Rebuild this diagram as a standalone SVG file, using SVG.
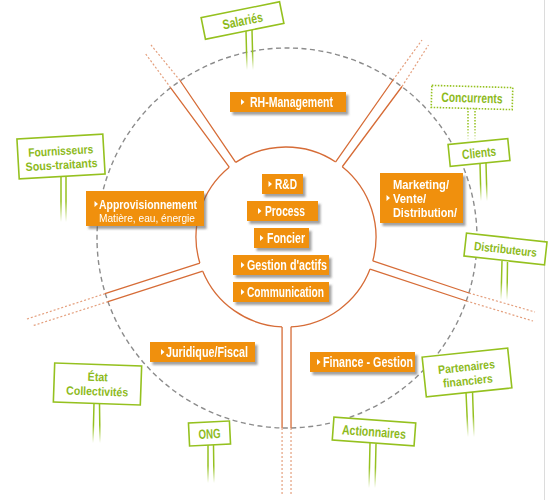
<svg xmlns="http://www.w3.org/2000/svg" xmlns:xlink="http://www.w3.org/1999/xlink" width="554" height="500" viewBox="0 0 554 500">
<style>
.ob{fill:#f0900a}
.ot{fill:#fff;font-family:"Liberation Sans",Arial,sans-serif;font-weight:bold;font-size:14px}
.om{fill:#fff;font-family:"Liberation Sans",Arial,sans-serif;font-weight:bold;font-size:12px}
.os{fill:#fff;font-family:"Liberation Sans",Arial,sans-serif;font-size:10.5px}
.gb{fill:#fff;stroke:#95c11f;stroke-width:1.6}
.gd{stroke-dasharray:1.5 1.5}
.gt{fill:#8dba1c;font-family:"Liberation Sans",Arial,sans-serif;font-weight:bold;font-size:13.5px;text-anchor:middle}
.g2{fill:#8dba1c;font-family:"Liberation Sans",Arial,sans-serif;font-weight:bold;font-size:12px;text-anchor:middle}
.post{fill:none;stroke:url(#pg);stroke-width:1.5}
.sp{fill:none;stroke:#d66c37;stroke-width:1.3}
.spd{fill:none;stroke:#d66c37;stroke-width:1.2;stroke-dasharray:2 2;opacity:.65}
</style>
<defs>
<filter id="sh" x="-10%" y="-20%" width="130%" height="160%"><feDropShadow dx="2.5" dy="3" stdDeviation="1" flood-color="#555" flood-opacity="0.55"/></filter>
<linearGradient id="pg" x1="0" y1="0" x2="0" y2="1"><stop offset="0" stop-color="#95c11f"/><stop offset="0.55" stop-color="#95c11f"/><stop offset="1" stop-color="#95c11f" stop-opacity="0"/></linearGradient>
<path id="tri" d="M0 -3 L3.5 0 L0 3Z" fill="#fff"/>
</defs>
<rect width="554" height="500" fill="#fff"/>
<line x1="544.5" y1="0" x2="544.5" y2="500" stroke="#dcdcdc" stroke-width="1"/>
<circle id="outer-ring" cx="287" cy="238" r="190" fill="none" stroke="#8c8c8c" stroke-width="1.4" stroke-dasharray="5 3.5"/>
<g id="connectors">
<path class="sp" d="M235.67 162.39 A90 90 0 0 1 335.67 161.95 M342.27 166.76 A90 90 0 0 1 372.77 260.9 M370.08 269.1 A90 90 0 0 1 291.02 326.86 M282.07 326.91 A90 90 0 0 1 202.73 271.15 M199.84 263.01 A90 90 0 0 1 229.24 167.16"/>
<path class="sp" d="M229.24 167.16 L170.7 87.8 M235.67 162.39 L180 80.5 M335.67 161.95 L393 80 M342.27 166.76 L402 86.5 M372.77 260.9 L469 293 M370.08 269.1 L466.5 301 M199.84 263.01 L105 293.7 M202.73 271.15 L108 301.6 M282.07 326.91 L282.07 428 M291.02 326.86 L291.02 428"/>
<path class="spd" d="M170.7 87.8 L145 53 M180 80.5 L151 45 M393 80 L422 40 M402 86.5 L428.5 45 M469 293 L535 312 M466.5 301 L533 321 M105 293.7 L27 319 M108 301.6 L32 326 M282.07 428 L282.07 494 M291.02 428 L291.02 494"/>
</g>
<g id="rh-management" filter="url(#sh)"><rect class="ob" x="230" y="92" width="116" height="20"/><use xlink:href="#tri" x="241" y="102"/><text class="ot" x="250" y="107" textLength="83" lengthAdjust="spacingAndGlyphs">RH-Management</text></g>
<g id="rd" filter="url(#sh)"><rect class="ob" x="262" y="174" width="41" height="20"/><use xlink:href="#tri" x="268.5" y="184"/><text class="ot" x="275" y="189" textLength="22" lengthAdjust="spacingAndGlyphs">R&amp;D</text></g>
<g id="process" filter="url(#sh)"><rect class="ob" x="247" y="201" width="71" height="20"/><use xlink:href="#tri" x="258" y="211"/><text class="ot" x="265" y="216" textLength="40" lengthAdjust="spacingAndGlyphs">Process</text></g>
<g id="foncier" filter="url(#sh)"><rect class="ob" x="254" y="228" width="55" height="20"/><use xlink:href="#tri" x="260" y="238"/><text class="ot" x="267" y="243" textLength="38" lengthAdjust="spacingAndGlyphs">Foncier</text></g>
<g id="gestion-actifs" filter="url(#sh)"><rect class="ob" x="233" y="255" width="96" height="20"/><use xlink:href="#tri" x="241" y="265"/><text class="ot" x="247" y="270" textLength="80" lengthAdjust="spacingAndGlyphs">Gestion d'actifs</text></g>
<g id="communication" filter="url(#sh)"><rect class="ob" x="233" y="282" width="96" height="20"/><use xlink:href="#tri" x="241" y="292"/><text class="ot" x="247" y="297" textLength="77" lengthAdjust="spacingAndGlyphs">Communication</text></g>
<g id="approvisionnement" filter="url(#sh)"><rect class="ob" x="86" y="191" width="118" height="35"/><use xlink:href="#tri" x="94.5" y="204"/><text class="ot" x="99" y="209" style="font-size:12.5px" textLength="98" lengthAdjust="spacingAndGlyphs">Approvisionnement</text><text class="os" x="99" y="221.5" textLength="96" lengthAdjust="spacingAndGlyphs">Matière, eau, énergie</text></g>
<g id="marketing" filter="url(#sh)"><rect class="ob" x="380" y="173" width="83" height="50"/><use xlink:href="#tri" x="386.5" y="198"/><text class="om" x="393" y="188.5" textLength="56" lengthAdjust="spacingAndGlyphs">Marketing/</text><text class="om" x="393" y="202.5" textLength="33" lengthAdjust="spacingAndGlyphs">Vente/</text><text class="om" x="393" y="216.5" textLength="64" lengthAdjust="spacingAndGlyphs">Distribution/</text></g>
<g id="juridique" filter="url(#sh)"><rect class="ob" x="150" y="342" width="105" height="20"/><use xlink:href="#tri" x="161" y="352"/><text class="ot" x="166" y="357" textLength="82" lengthAdjust="spacingAndGlyphs">Juridique/Fiscal</text></g>
<g id="finance" filter="url(#sh)"><rect class="ob" x="310" y="352" width="105" height="20"/><use xlink:href="#tri" x="317" y="362"/><text class="ot" x="323" y="367" textLength="90" lengthAdjust="spacingAndGlyphs">Finance - Gestion</text></g>
<g id="salaries"><path class="post" d="M246 31 L247 70 M252 30 L253 70"/><g transform="translate(242.5 20.5) rotate(-11.4)"><rect class="gb" x="-40" y="-11" width="80" height="22"/><text class="gt" x="0" y="5" textLength="41" lengthAdjust="spacingAndGlyphs">Salariés</text></g></g>
<g id="concurrents"><path class="post gd" d="M468 108 L468 142 M475 108 L475 142"/><g transform="translate(472 97.5) rotate(1.6)"><rect class="gb gd" x="-40.5" y="-11" width="81" height="22"/><text class="gt" x="0" y="5" textLength="61" lengthAdjust="spacingAndGlyphs">Concurrents</text></g></g>
<g id="clients"><path class="post" d="M480 164 L481 201 M486 163 L487 201"/><g transform="translate(479 152.5) rotate(-5.7)"><rect class="gb" x="-30" y="-11" width="60" height="22"/><text class="gt" x="0" y="5" textLength="34" lengthAdjust="spacingAndGlyphs">Clients</text></g></g>
<g id="distributeurs"><path class="post" d="M502 261 L501 300 M507.5 262 L507 300"/><g transform="translate(505.5 249) rotate(6.3)"><rect class="gb" x="-40.5" y="-11.5" width="81" height="23"/><text class="gt" x="0" y="4.5" style="font-size:12px" textLength="63" lengthAdjust="spacingAndGlyphs">Distributeurs</text></g></g>
<g id="fournisseurs"><path class="post" d="M61 176 L61 222 M66 176 L66 222"/><g transform="translate(61 156.5) rotate(-3.3)"><rect class="gb" x="-43" y="-20" width="86" height="40"/><text class="g2" x="0" y="-1.5" textLength="65" lengthAdjust="spacingAndGlyphs">Fournisseurs</text><text class="g2" x="0" y="12.5" textLength="72" lengthAdjust="spacingAndGlyphs">Sous-traitants</text></g></g>
<g id="etat"><path class="post" d="M94 403 L93 443 M99.5 404 L100 443"/><g transform="translate(97.5 384) rotate(2)"><rect class="gb" x="-43.5" y="-19.5" width="87" height="39"/><text class="g2" x="0" y="-3" textLength="20" lengthAdjust="spacingAndGlyphs">État</text><text class="g2" x="0" y="11.5" textLength="62" lengthAdjust="spacingAndGlyphs">Collectivités</text></g></g>
<g id="ong"><path class="post" d="M208 445 L208 483 M213.5 445 L214 483"/><g transform="translate(209.5 433.5) rotate(-2.8)"><rect class="gb" x="-20.5" y="-11.5" width="41" height="23"/><text class="gt" x="0" y="5" textLength="22" lengthAdjust="spacingAndGlyphs">ONG</text></g></g>
<g id="partenaires"><path class="post" d="M466 392 L468 437 M472.5 391 L474 437"/><g transform="translate(467 372.5) rotate(-6)"><rect class="gb" x="-43" y="-20" width="86" height="40"/><text class="g2" x="0" y="-1.5" textLength="57" lengthAdjust="spacingAndGlyphs">Partenaires</text><text class="g2" x="0" y="12.5" textLength="50" lengthAdjust="spacingAndGlyphs">financiers</text></g></g>
<g id="actionnaires"><path class="post" d="M370 443 L369 488 M376 444 L375 488"/><g transform="translate(374 431.5) rotate(4.2)"><rect class="gb" x="-41" y="-11.5" width="82" height="23"/><text class="gt" x="0" y="5" textLength="64" lengthAdjust="spacingAndGlyphs">Actionnaires</text></g></g>
</svg>
